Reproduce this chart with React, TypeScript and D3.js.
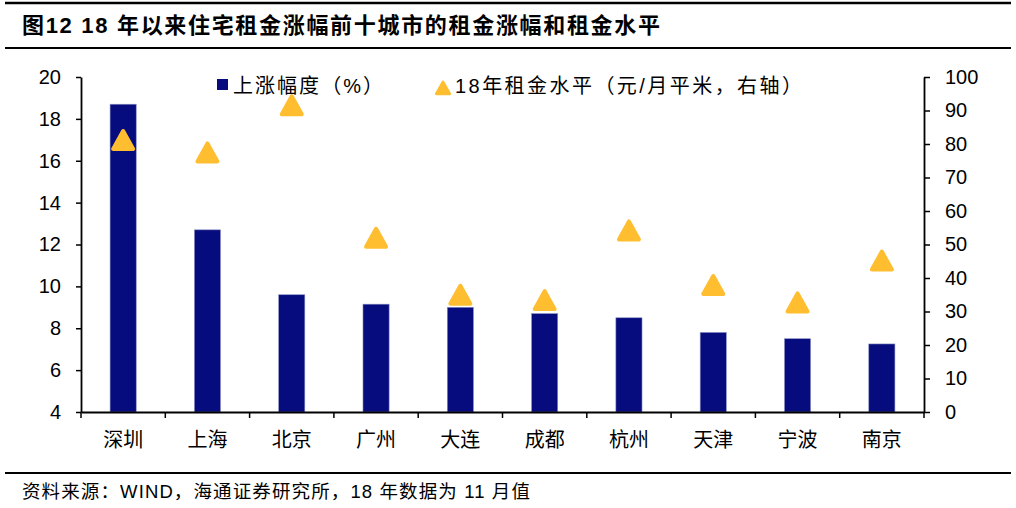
import React, { useEffect, useRef } from 'react';
import * as d3 from 'd3';

const width = 1016;
const height = 508;
const margin = { left: 81, right: 92, top: 77, bottom: 96 };

const cities = ['深圳', '上海', '北京', '广州', '大连', '成都', '杭州', '天津', '宁波', '南京'];
const rise = [18.7, 12.7, 9.6, 9.15, 9.0, 8.7, 8.5, 7.8, 7.5, 7.25]; // 上涨幅度（%）
const rent = [81.2, 77.5, 91.6, 52.0, 35.0, 33.4, 54.2, 37.9, 32.7, 45.2]; // 元/月平米
const leftTicks = [4, 6, 8, 10, 12, 14, 16, 18, 20];
const rightTicks = [0, 10, 20, 30, 40, 50, 60, 70, 80, 90, 100];

const title = '图12 18 年以来住宅租金涨幅前十城市的租金涨幅和租金水平';
const source = '资料来源：WIND，海通证券研究所，18 年数据为 11 月值';
const legendBar = '上涨幅度（%）';
const legendTri = '18年租金水平（元/月平米，右轴）';

const font = '"Liberation Sans", Arial, "Noto Sans CJK SC", sans-serif';
const barColor = '#060b7d';
const triColor = '#ffbe30';

const pad = 0.69;
const x = d3.scaleBand<string>()
  .domain(cities)
  .range([margin.left, width - margin.right])
  .paddingInner(pad)
  .paddingOuter(pad / 2);

const yL = d3.scaleLinear().domain([4, 20]).range([height - margin.bottom, margin.top]);
const yR = d3.scaleLinear().domain([0, 100]).range([height - margin.bottom, margin.top]);

// rounded triangle marker
function tri(cx: number, cy: number, s: number) {
  const h = s * 0.9;
  return `M${cx},${cy - h / 2}L${cx + s / 2},${cy + h / 2}L${cx - s / 2},${cy + h / 2}Z`;
}

export default function App() {
  const ref = useRef<SVGSVGElement>(null);

  useEffect(() => {
    const svg = d3.select(ref.current);
    svg.selectAll('*').remove();

    // header / footer rules
    svg.append('line').attr('x1', 5).attr('x2', 1011).attr('y1', 3).attr('y2', 3)
      .attr('stroke', '#000').attr('stroke-width', 2.5);
    svg.append('line').attr('x1', 5).attr('x2', 1011).attr('y1', 48).attr('y2', 48)
      .attr('stroke', '#000').attr('stroke-width', 2);
    svg.append('line').attr('x1', 5).attr('x2', 1011).attr('y1', 473).attr('y2', 473)
      .attr('stroke', '#000').attr('stroke-width', 2);

    svg.append('text').text(title)
      .attr('x', 22).attr('y', 33)
      .attr('font-family', font).attr('font-size', 22).attr('font-weight', 'bold')
      .attr('textLength', 638).attr('lengthAdjust', 'spacing');

    svg.append('text').text(source)
      .attr('x', 22).attr('y', 498)
      .attr('font-family', font).attr('font-size', 18.5)
      .attr('textLength', 508).attr('lengthAdjust', 'spacing');

    // bars
    svg.append('g').selectAll('rect')
      .data(rise)
      .enter().append('rect')
      .attr('x', (d, i) => x(cities[i]))
      .attr('width', x.bandwidth())
      .attr('y', d => yL(d))
      .attr('height', d => yL(4) - yL(d))
      .attr('fill', barColor)
      .attr('stroke', '#8a8fc4')
      .attr('stroke-width', 0.6);

    // triangles
    svg.append('g').selectAll('path')
      .data(rent)
      .enter().append('path')
      .attr('d', (d, i) => tri(x(cities[i]) + x.bandwidth() / 2, yR(d), 20))
      .attr('fill', triColor)
      .attr('stroke', triColor)
      .attr('stroke-width', 4)
      .attr('stroke-linejoin', 'round');

    // left axis
    const yAxisL = d3.axisLeft(yL).tickValues(leftTicks).tickSize(5).tickSizeOuter(0).tickPadding(15);
    const gl = svg.append('g').attr('transform', `translate(${margin.left},0)`).call(yAxisL);

    // right axis
    const yAxisR = d3.axisRight(yR).tickValues(rightTicks).tickSize(6).tickSizeOuter(0).tickPadding(15);
    const gr = svg.append('g').attr('transform', `translate(${width - margin.right},0)`).call(yAxisR);

    // x axis: labels centred, ticks at category boundaries
    const xAxis = d3.axisBottom(x).tickSize(0).tickSizeOuter(0).tickPadding(21);
    const gx = svg.append('g').attr('transform', `translate(0,${height - margin.bottom})`).call(xAxis);
    gx.selectAll('.tick text')
      .attr('font-family', font).attr('font-size', 20).attr('fill', '#000');
    const bounds = d3.range(cities.length + 1).map(i => margin.left + i * x.step());
    gx.selectAll('line.bound')
      .data(bounds)
      .enter().append('line')
      .attr('class', 'bound')
      .attr('x1', d => d).attr('x2', d => d)
      .attr('y1', 0).attr('y2', 6)
      .attr('stroke', '#000').attr('stroke-width', 1.5);

    [gl, gr, gx].forEach(g => {
      g.select('.domain').attr('stroke', '#000').attr('stroke-width', 1.8);
      g.selectAll('.tick line').attr('stroke', '#000').attr('stroke-width', 1.5);
    });
    [gl, gr].forEach(g => {
      g.selectAll('.tick text')
        .attr('font-family', font).attr('font-size', 20).attr('fill', '#000');
    });

    // legend
    const lg = svg.append('g');
    lg.append('rect').attr('x', 217).attr('y', 79).attr('width', 11).attr('height', 11).attr('fill', barColor);
    lg.append('text').text(legendBar)
      .attr('x', 233).attr('y', 93)
      .attr('font-family', font).attr('font-size', 20)
      .attr('textLength', 150).attr('lengthAdjust', 'spacing');
    lg.append('path').attr('d', tri(443, 88, 13))
      .attr('fill', triColor).attr('stroke', triColor)
      .attr('stroke-width', 3).attr('stroke-linejoin', 'round');
    lg.append('text').text(legendTri)
      .attr('x', 455).attr('y', 93)
      .attr('font-family', font).attr('font-size', 20)
      .attr('textLength', 347).attr('lengthAdjust', 'spacing');
  }, []);

  return (
    <svg
      ref={ref}
      width={width}
      height={height}
      style={{ position: 'absolute', left: 0, top: 0, background: '#fff' }}
    />
  );
}
